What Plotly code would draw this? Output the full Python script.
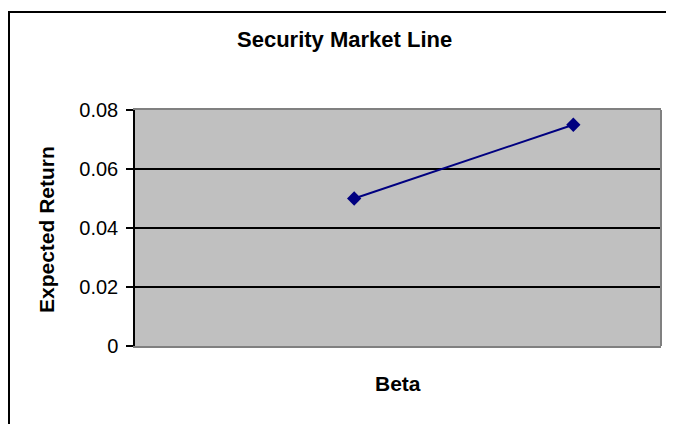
import plotly.graph_objects as go

beta = [1.0, 2.0]
expected_return = [0.05, 0.075]
y_ticks = [0, 0.02, 0.04, 0.06, 0.08]
y_tick_labels = ["0", "0.02", "0.04", "0.06", "0.08"]

# figure sits at an 8px page offset
W, H = 666, 416
L, R, T, B = 127, 13, 102, 78
PW, PH = W - L - R, H - T - B


def px(x):
    return (x - L) / PW


def py(y):
    return 1 - (y - T) / PH


fig = go.Figure()
fig.add_trace(go.Scatter(
    x=beta, y=expected_return, mode="lines+markers",
    line=dict(color="#000080", width=2),
    marker=dict(symbol="diamond", size=11, color="#000080"),
    showlegend=False,
))

font = "Liberation Sans, Arial, sans-serif"
fig.update_layout(
    width=W, height=H,
    margin=dict(l=L, r=R, t=T, b=B, pad=0),
    paper_bgcolor="white", plot_bgcolor="#C0C0C0",
    font=dict(family=font, color="black"),
    xaxis=dict(range=[0, 2.4], showticklabels=False, ticks="", showgrid=False,
               zeroline=False, showline=True, linecolor="#808080", linewidth=2,
               mirror=True),
    yaxis=dict(range=[0, 0.08], tickvals=y_ticks, ticktext=y_tick_labels,
               showgrid=True, gridcolor="black", gridwidth=2, zeroline=False,
               showline=True, linecolor="black", linewidth=1.5,
               ticks="outside", ticklen=7, tickcolor="black", tickwidth=1.5,
               ticklabelstandoff=4,
               tickfont=dict(size=20, family=font, color="black")),
    shapes=[
        dict(type="line", xref="paper", yref="paper", x0=1, x1=1, y0=0, y1=1,
             line=dict(color="#808080", width=2)),
        dict(type="rect", xref="paper", yref="paper",
             x0=px(1), x1=px(W + 30), y0=py(H + 30), y1=py(4),
             line=dict(color="black", width=2), layer="below"),
    ],
    annotations=[
        dict(text="<b>Security Market Line</b>", xref="paper", yref="paper",
             x=px(336), y=py(31), xanchor="center", yanchor="middle",
             showarrow=False, font=dict(size=22, family=font, color="black")),
        dict(text="<b>Beta</b>", xref="paper", yref="paper",
             x=0.5, y=py(375), xanchor="center", yanchor="middle",
             showarrow=False, font=dict(size=21, family=font, color="black")),
        dict(text="<b>Expected Return</b>", xref="paper", yref="paper",
             x=px(38), y=py(222), xanchor="center", yanchor="middle",
             showarrow=False, textangle=-90,
             font=dict(size=21, family=font, color="black")),
    ],
)

fig.write_html("out.html")
